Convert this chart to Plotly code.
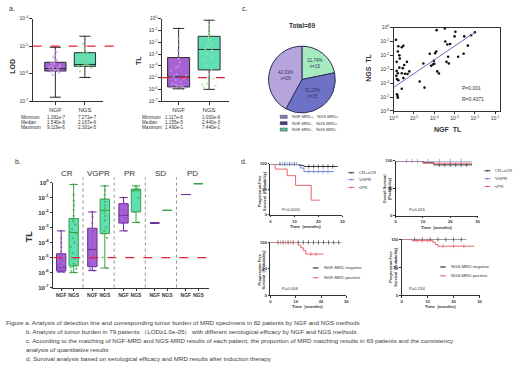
import plotly.graph_objects as go

W, H = 520, 373
FONT = "Liberation Sans, Arial, Helvetica, sans-serif"
INK = "#333333"

# ---------------- data: panel a ----------------
methods = ["NGF", "NGS"]
lod_min = [1.391e-7, 7.271e-7]
lod_q1 = [1.25e-6, 1.85e-6]
lod_median = [1.540e-6, 2.167e-6]
lod_q3 = [2.6e-6, 5.8e-6]
lod_max = [9.119e-6, 2.301e-5]
lod_ngf_pts = [1.4e-7, 9e-7, 1.1e-6, 1.2e-6, 1.25e-6, 1.3e-6, 1.35e-6, 1.4e-6, 1.45e-6, 1.5e-6,
               1.55e-6, 1.6e-6, 1.7e-6, 1.8e-6, 1.9e-6, 2e-6, 2.2e-6, 2.4e-6, 2.6e-6, 2.8e-6,
               3e-6, 3.3e-6, 3.6e-6, 4e-6, 4.5e-6, 5e-6, 6e-6, 7e-6, 9.1e-6]
lod_ngs_pts = [7.3e-7, 1.2e-6, 1.6e-6, 1.8e-6, 1.9e-6, 2e-6, 2.1e-6, 2.2e-6, 2.5e-6, 3e-6,
               3.5e-6, 4e-6, 4.5e-6, 5e-6, 5.5e-6, 6e-6, 8e-6, 1.2e-5, 2.3e-5]
tl_min = [1.117e-6, 1.000e-6]
tl_q1 = [1.6e-6, 4.5e-5]
tl_median = [1.155e-5, 2.440e-3]
tl_q3 = [5.0e-4, 3.2e-2]
tl_max = [1.490e-1, 7.440e-1]
tl_ngf_pts = [1.1e-6, 1.2e-6, 1.3e-6, 1.4e-6, 1.5e-6, 1.6e-6, 1.8e-6, 2e-6, 2.5e-6, 3e-6, 4e-6,
              6e-6, 8e-6, 1e-5, 1.2e-5, 1.5e-5, 2e-5, 4e-5, 7e-5, 1e-4, 2e-4, 4e-4, 8e-4,
              2e-3, 6e-3, 2e-2, 1.5e-1]
tl_ngs_pts = [1e-6, 1.5e-6, 2e-6, 2.5e-6, 3e-6, 8e-6, 2e-5, 5e-5, 1e-4, 3e-4, 6e-4, 1e-3,
              2e-3, 2.4e-3, 4e-3, 8e-3, 1.5e-2, 2.5e-2, 3.5e-2, 6e-2, 1.5e-1, 3e-1, 7.4e-1]
lod_cutoff = 1e-5

# ---------------- data: panel b ----------------
responses = ["CR", "VGPR", "PR", "SD", "PD"]
b_ngf_min = [1.1e-6, 1.35e-6, 6e-4, 2e-3, 1.6e-1]
b_ngf_q1 = [1.3e-6, 2.5e-6, 2e-3, 2e-3, 1.6e-1]
b_ngf_med = [2.2e-6, 3.5e-5, 6.5e-3, 2e-3, 1.6e-1]
b_ngf_q3 = [1.8e-5, 9e-4, 3.9e-2, 2e-3, 1.6e-1]
b_ngf_max = [6e-4, 1.1e-2, 1e-1, 2e-3, 1.6e-1]
b_ngs_min = [1e-6, 2e-6, 2.2e-3, 1.4e-2, 8.5e-1]
b_ngs_q1 = [2.8e-6, 4e-4, 1.1e-2, 1.4e-2, 8.5e-1]
b_ngs_med = [4.7e-4, 1.4e-2, 2.9e-1, 1.4e-2, 8.5e-1]
b_ngs_q3 = [4e-3, 8e-2, 3.7e-1, 1.4e-2, 8.5e-1]
b_ngs_max = [7.5e-1, 6e-1, 6e-1, 1.4e-2, 8.5e-1]
cr_ngf_pts = [1.1e-6, 1.15e-6, 1.2e-6, 1.25e-6, 1.3e-6, 1.4e-6, 1.5e-6, 1.6e-6, 1.8e-6, 2e-6,
              2.2e-6, 2.5e-6, 3e-6, 3.5e-6, 4.5e-6, 6e-6, 8e-6, 1.2e-5, 1.6e-5, 2.5e-5, 5e-5,
              1e-4, 2e-4, 6e-4]
cr_ngs_pts = [1e-6, 1.3e-6, 1.8e-6, 2.2e-6, 2.6e-6, 3e-6, 4e-6, 8e-6, 2e-5, 5e-5, 1e-4, 2e-4,
              4e-4, 5e-4, 8e-4, 1.5e-3, 2.5e-3, 3.5e-3, 6e-3, 1.5e-2, 3e-2, 6e-2, 1.5e-1, 7.5e-1]
vgpr_ngf_pts = [1.35e-6, 1.8e-6, 2.5e-6, 4e-6, 8e-6, 1.5e-5, 2.5e-5, 3.5e-5, 5e-5, 8e-5, 1.5e-4,
                3e-4, 6e-4, 9e-4, 2e-3, 5e-3, 1.1e-2]
vgpr_ngs_pts = [2e-6, 1e-5, 2e-4, 4e-4, 6e-4, 1e-3, 3e-3, 6e-3, 1e-2, 1.4e-2, 2e-2, 3e-2, 5e-2,
                8e-2, 1.5e-1, 3e-1, 6e-1]
pr_ngf_pts = [6e-4, 2e-3, 4e-3, 6.5e-3, 1.5e-2, 3.9e-2, 1e-1]
pr_ngs_pts = [2.2e-3, 1.1e-2, 1e-1, 2.9e-1, 3.5e-1, 4e-1, 6e-1]

# ---------------- data: panel c ----------------
pie_labels = ["NGF-MRD-、NGS-MRD-", "NGF-MRD-、NGS-MRD+", "NGF-MRD+、NGS-MRD+"]
pie_n = [15, 25, 29]
pie_pct = ["21.74%", "36.23%", "42.03%"]
legend_labels = ["NGF-MRD+、NGS-MRD+", "NGF-MRD-、NGS-MRD+", "NGF-MRD-、NGS-MRD-"]
ngf_tl = [1.7e-6, 2.5e-6, 3.0e-6, 1.6e-6, 1.9e-6, 1.4e-6, 1.9e-6, 1.4e-6, 1.6e-6, 1.35e-6,
          1.45e-6, 1.7e-6, 2.5e-6, 2.8e-6, 3.3e-6, 3.6e-6, 4.5e-6, 4.8e-6, 3.0e-6, 2.5e-6,
          1.45e-6, 1.55e-6, 1.6e-6, 5.9e-6, 2.0e-6, 1.3e-6,
          1.9e-5, 3.3e-5, 2.9e-5, 6.0e-5, 7.0e-5, 8.5e-5, 1.0e-4, 9.5e-5, 1.1e-4, 1.25e-4,
          1.3e-4, 1.4e-4, 1.7e-4, 3.3e-4, 3.5e-4, 4.4e-4, 4.0e-4, 5.2e-4, 6.0e-4, 4.8e-4,
          1.1e-3, 1.0e-3, 1.5e-3, 2.8e-3, 3.0e-3, 4.5e-3, 6.5e-3, 1.0e-2]
ngs_tl = [4.5e-2, 3.8e-2, 4.9e-2, 1.9e-2, 1.0e-2, 3.4e-3, 1.3e-3, 7.6e-4, 5.2e-4, 3.4e-4,
          2.0e-4, 1.6e-4, 5.2e-4, 1.2e-3, 2.0e-3, 4.7e-4, 3.4e-3, 4.5e-4, 2.3e-4, 4.0e-5,
          1.6e-5, 1.2e-5, 9.0e-6, 7.0e-4, 6.0e-3, 1.3e-1,
          1.3e-4, 4.8e-5, 2.6e-3, 1.3e-2, 1.8e-3, 2.2e-3, 2.5e-3, 4.0e-3, 1.4e-2, 1.9e-2,
          6.5e-1, 7.0e-4, 5.0e-4, 8.5e-1, 1.0e-1, 6.0e-2, 3.4e-3, 2.6e-3, 6.5e-2, 8.0e-3,
          5.0e-1, 2.3e-1, 8.0e-3, 1.3e-2, 2.3e-1, 5.0e-2, 2.8e-1, 4.5e-1]
fit_x = [1e-6, 1e-2]
fit_y = [5e-5, 4.5e-1]

# ---------------- data: panel d (Kaplan-Meier) ----------------
km1_t = {"CR+sCR": [0, 12, 14, 28], "VGPR": [0, 12.5, 14, 26.5], "≤PR": [0, 2, 7, 10.5, 17, 20.5]}
km1_s = {"CR+sCR": [100, 97, 95, 95], "VGPR": [100, 92, 85, 85], "≤PR": [100, 90, 77, 58, 29, 29]}
km1_c = {"CR+sCR": [4, 6, 8, 10, 16, 18, 20, 22, 24, 26], "VGPR": [5, 7, 9, 11, 16, 18, 20, 22, 24], "≤PR": []}
km2_t = {"CR+sCR": [0, 10, 14, 28], "VGPR": [0, 28], "≤PR": [0, 10, 28]}
km2_s = {"CR+sCR": [100, 97, 93, 93], "VGPR": [100, 100], "≤PR": [100, 96, 96]}
km2_c = {"CR+sCR": [16, 18, 20, 22, 24, 26], "VGPR": [4, 6, 8, 12, 16, 20, 24], "≤PR": []}
km3_t = {"NGF-MRD negative": [0, 28], "NGF-MRD positive": [0, 11, 12, 13, 14, 21]}
km3_s = {"NGF-MRD negative": [100, 100], "NGF-MRD positive": [100, 95, 90, 85, 78, 78]}
km3_c = {"NGF-MRD negative": [3, 5, 7, 9, 11, 13, 15, 17, 19, 21, 23, 25, 27], "NGF-MRD positive": [4, 6, 8, 16, 18]}
km4_t = {"NGS-MRD negative": [0, 25], "NGS-MRD positive": [0, 4, 12, 13, 14, 28]}
km4_s = {"NGS-MRD negative": [100, 100], "NGS-MRD positive": [100, 98, 95, 91, 88, 88]}
km4_c = {"NGS-MRD negative": [5, 8, 11, 14, 17, 20, 23], "NGS-MRD positive": [6, 8, 10, 16, 20, 24]}
km_p = ["P<0.0001", "P=0.026", "P=0.008", "P=0.234"]

caption = [
    "Figure a. Analysis of detection line and corresponding tumor burden of MRD specimens in 82 patients by NGF and NGS methods",
    "b. Analysis of tumor burden in 79 patients （LOD≥1.0e-05） with different serological efficacy by NGF and NGS methods",
    "c. According to the matching of NGF-MRD and NGS-MRD results of each patient, the proportion of MRD matching results in 69 patients and the consistency",
    "analysis of quantitative results",
    "d. Survival analysis based on serological efficacy and MRD results after induction therapy",
]

# ---------------- helpers ----------------
def xd(a, b):
    return [a / W, b / W]


def yd(top, bottom):
    return [1 - bottom / H, 1 - top / H]


def px(x):
    return x / W


def py(y):
    return 1 - y / H


def logticks(lo, hi):
    vals = [10.0 ** e for e in range(lo, hi + 1)]
    text = ["10<sup>%d</sup>" % e for e in range(lo, hi + 1)]
    return vals, text


def sci(v):
    m, e = ("%.3e" % v).split("e")
    return "%se%d" % (m, int(e))


def axis(dom, anchor, size=5, bold=False, **kw):
    d = dict(domain=dom, anchor=anchor, showline=True, linecolor=INK, linewidth=1,
             ticks="outside", ticklen=2.5, tickwidth=0.8, tickcolor=INK, showgrid=False,
             zeroline=False, fixedrange=True,
             tickfont=dict(size=size, color=INK, family=FONT, weight="bold" if bold else "normal"))
    d.update(kw)
    return d


annotations = []
shapes = []


def ann(x, y, text, size=5, bold=False, xanchor="left", angle=0, color=INK, yanchor="middle"):
    annotations.append(dict(x=px(x), y=py(y), xref="paper", yref="paper", text=text, showarrow=False,
                            xanchor=xanchor, yanchor=yanchor, textangle=angle,
                            font=dict(size=size, color=color, family=FONT,
                                      weight="bold" if bold else "normal")))


fig = go.Figure()
layout = {}

PURPLE_FILL = "#a661d3"
GREEN_FILL = "#5fe0b4"
RED = "#e8203c"

# ---------------- panel a ----------------
def box_panel(xa, ya, mins, q1s, meds, q3s, maxs, pts_lists, fills, lines, ptcols, width, capsize, positions):
    for i, pos in enumerate(positions):
        fig.add_trace(go.Box(x=[pos], q1=[q1s[i]], median=[meds[i]], q3=[q3s[i]],
                             lowerfence=[mins[i]], upperfence=[maxs[i]], orientation="v",
                             width=width, fillcolor=fills[i], line=dict(color=lines[i], width=1),
                             whiskerwidth=0, boxpoints=False, xaxis=xa, yaxis=ya, hoverinfo="skip"))
        fig.add_trace(go.Scatter(x=[pos, pos], y=[mins[i], maxs[i]], mode="markers",
                                 marker=dict(symbol="line-ew", size=capsize,
                                             line=dict(color=lines[i], width=1)),
                                 xaxis=xa, yaxis=ya, cliponaxis=False, hoverinfo="skip"))
        if pts_lists[i]:
            fig.add_trace(go.Box(y=pts_lists[i], x0=pos, orientation="v", width=width * 0.85,
                                 boxpoints="all", jitter=0.9, pointpos=0,
                                 fillcolor="rgba(0,0,0,0)", line=dict(color="rgba(0,0,0,0)", width=0),
                                 marker=dict(size=2.3, color=ptcols[i], opacity=0.75),
                                 xaxis=xa, yaxis=ya, hoverinfo="skip"))


box_panel("x", "y", lod_min, lod_q1, lod_median, lod_q3, lod_max, [lod_ngf_pts, lod_ngs_pts],
          [PURPLE_FILL, GREEN_FILL], ["#2a2a2a", "#2a2a2a"], ["#c99cec", "#8fd97a"], 0.72, 8, [0, 1])
box_panel("x2", "y2", tl_min, tl_q1, tl_median, tl_q3, tl_max, [tl_ngf_pts, tl_ngs_pts],
          [PURPLE_FILL, GREEN_FILL], ["#2a2a2a", "#2a2a2a"], ["#c99cec", "#a8e39a"], 0.72, 8, [0, 1])

tv, tt = logticks(-7, -4)
layout["xaxis"] = axis(xd(29, 100), "y", size=6, range=[-0.77, 1.6], tickvals=[0, 1], ticktext=methods)
layout["yaxis"] = axis(yd(15, 99), "x", size=5, type="log", range=[-7, -4], tickvals=tv, ticktext=tt)
tv, tt = logticks(-7, 0)
layout["xaxis2"] = axis(xd(160, 228), "y2", size=6, range=[-0.55, 1.65], tickvals=[0, 1], ticktext=methods)
layout["yaxis2"] = axis(yd(15, 99), "x2", size=5, type="log", range=[-7, 0], tickvals=tv, ticktext=tt)

shapes.append(dict(type="line", xref="x domain", yref="y", x0=0, x1=1.18, y0=lod_cutoff, y1=lod_cutoff,
                   line=dict(color=RED, width=1.2, dash="dash")))
shapes.append(dict(type="line", xref="x2 domain", yref="y2", x0=0, x1=1.06, y0=lod_cutoff, y1=lod_cutoff,
                   line=dict(color=RED, width=1.2, dash="dash")))

ann(3, 5, "a.", size=7)
ann(9, 63, "LOD", size=7, bold=True, xanchor="center", angle=-90)
ann(137, 58, "TL", size=7, bold=True, xanchor="center", angle=-90)
row_names = ["Minimum", "Median", "Maximum"]
lod_rows = [lod_min, lod_median, lod_max]
tl_rows = [tl_min, tl_median, tl_max]
for r, name in enumerate(row_names):
    yy = 116 + r * 5
    ann(15, yy, name, size=4.6)
    ann(42, yy, sci(lod_rows[r][0]), size=4.6)
    ann(73, yy, sci(lod_rows[r][1]), size=4.6)
    ann(138, yy, name, size=4.6)
    ann(161, yy, sci(tl_rows[r][0]), size=4.6)
    ann(199, yy, sci(tl_rows[r][1]), size=4.6)

# ---------------- panel b ----------------
GROUP_STRIDE = 2.5
b_pos_ngf = [g * GROUP_STRIDE for g in range(len(responses))]
b_pos_ngs = [g * GROUP_STRIDE + 1 for g in range(len(responses))]
ngf_pts_b = [cr_ngf_pts, vgpr_ngf_pts, pr_ngf_pts, [], []]
ngs_pts_b = [cr_ngs_pts, vgpr_ngs_pts, pr_ngs_pts, [], []]
n = len(responses)
box_panel("x4", "y4", b_ngf_min, b_ngf_q1, b_ngf_med, b_ngf_q3, b_ngf_max, ngf_pts_b,
          [PURPLE_FILL] * n, ["#6b2e95"] * n, ["#9a52c8"] * n, 0.75, 6, b_pos_ngf)
box_panel("x4", "y4", b_ngs_min, b_ngs_q1, b_ngs_med, b_ngs_q3, b_ngs_max, ngs_pts_b,
          [GREEN_FILL] * n, ["#3c9e45"] * n, ["#3fae4c"] * n, 0.75, 6, b_pos_ngs)

tv, tt = logticks(-7, 0)
layout["xaxis4"] = axis(xd(50, 208), "y4", size=5, bold=True, range=[-0.63, 11.87],
                        tickvals=b_pos_ngf + b_pos_ngs, ticktext=["NGF"] * n + ["NGS"] * n)
layout["yaxis4"] = axis(yd(182, 289), "x4", size=6, bold=True, type="log", range=[-7, 0],
                        tickvals=tv, ticktext=tt)
shapes.append(dict(type="line", xref="x4 domain", yref="y4", x0=0, x1=1, y0=lod_cutoff, y1=lod_cutoff,
                   line=dict(color=RED, width=1.2, dash="dash")))
for g in range(1, n):
    xdiv = g * GROUP_STRIDE - 0.75
    shapes.append(dict(type="line", xref="x4", yref="y4 domain", x0=xdiv, x1=xdiv, y0=0, y1=1.05,
                       line=dict(color="#777777", width=0.8, dash="dot")))
for g, name in enumerate(responses):
    annotations.append(dict(x=g * GROUP_STRIDE + 0.5, y=1.09, xref="x4", yref="y4 domain", text=name,
                            showarrow=False, xanchor="center", yanchor="middle",
                            font=dict(size=8, color=INK, family=FONT)))
ann(9, 161, "b.", size=7)
ann(25, 237, "TL", size=9, bold=True, xanchor="center", angle=-90)

# ---------------- panel c: pie ----------------
PIE_COLS = ["#a6ebbf", "#6d72c6", "#b8a4dc"]
fig.add_trace(go.Pie(labels=pie_labels, values=pie_n, sort=False, direction="clockwise", rotation=0,
                     marker=dict(colors=PIE_COLS, line=dict(color="#2b2d55", width=1)),
                     text=["%s<br>n=%d" % (p, v) for p, v in zip(pie_pct, pie_n)],
                     textinfo="text", textposition="inside", insidetextorientation="horizontal",
                     textfont=dict(size=4.5, color="#333366", family=FONT),
                     domain=dict(x=xd(268, 336), y=yd(43, 111)), hoverinfo="skip", showlegend=False))
ann(239, 5, "c.", size=7)
ann(302, 22, "Total=69", size=6.5, bold=True, xanchor="center")
LEG_COLS = ["#8f86b8", "#3d3f7a", "#58c9a0"]
for i, lab in enumerate(legend_labels):
    yy = 115 + i * 6.5
    shapes.append(dict(type="rect", xref="paper", yref="paper", x0=px(280), x1=px(287),
                       y0=py(yy + 1.5), y1=py(yy - 1.5), fillcolor=LEG_COLS[i],
                       line=dict(color="#222244", width=0.5)))
    ann(290, yy, lab, size=4)

# ---------------- panel c: scatter ----------------
fig.add_trace(go.Scatter(x=ngf_tl, y=ngs_tl, mode="markers", xaxis="x3", yaxis="y3",
                         marker=dict(size=2.6, color="#111111"), hoverinfo="skip"))
fig.add_trace(go.Scatter(x=fit_x, y=fit_y, mode="lines", xaxis="x3", yaxis="y3",
                         line=dict(color="#6c6fb8", width=1), hoverinfo="skip"))
tvx, ttx = logticks(-6, -1)
tvy, tty = logticks(-6, 0)
layout["xaxis3"] = axis(xd(395, 503), "y3", size=5, type="log", range=[-6, -0.75], tickvals=tvx,
                        ticktext=ttx, mirror=True)
layout["yaxis3"] = axis(yd(24, 109), "x3", size=5, type="log", range=[-6, 0], tickvals=tvy,
                        ticktext=tty, mirror=True)
ann(370, 65, "NGS  TL", size=7, bold=True, xanchor="center", angle=-90)
ann(450, 128, "NGF  TL", size=7, bold=True, xanchor="center")
ann(462, 86, "P=0.001", size=5)
ann(462, 97, "R=0.4371", size=5)

# ---------------- panel d: KM ----------------
KM_COL = {"CR+sCR": "#333333", "VGPR": "#6f86d8", "≤PR": "#e9646f",
          "NGF-MRD negative": "#333333", "NGF-MRD positive": "#e9646f",
          "NGS-MRD negative": "#333333", "NGS-MRD positive": "#e9646f"}


def step_value(ts, ss, t):
    v = ss[0]
    for ti, si in zip(ts, ss):
        if ti <= t:
            v = si
    return v


def km_panel(k, tdict, sdict, cdict):
    xa, ya = "x%d" % k, "y%d" % k
    for name in tdict:
        fig.add_trace(go.Scatter(x=tdict[name], y=sdict[name], mode="lines", line_shape="hv",
                                 line=dict(color=KM_COL[name], width=1), xaxis=xa, yaxis=ya,
                                 cliponaxis=False, hoverinfo="skip"))
        cs = cdict[name]
        if cs:
            fig.add_trace(go.Scatter(x=cs, y=[step_value(tdict[name], sdict[name], c) for c in cs],
                                     mode="markers", marker=dict(symbol="line-ns", size=3,
                                                                 line=dict(color=KM_COL[name], width=0.7)),
                                     xaxis=xa, yaxis=ya, cliponaxis=False, hoverinfo="skip"))


km_doms = {5: (xd(270, 343), yd(163, 215)), 6: (xd(397, 480), yd(160, 216)),
           7: (xd(270, 347), yd(243, 297)), 8: (xd(403, 482), yd(240, 297))}
for k, (tdc, sdc, cdc) in zip([5, 6, 7, 8], [(km1_t, km1_s, km1_c), (km2_t, km2_s, km2_c),
                                              (km3_t, km3_s, km3_c), (km4_t, km4_s, km4_c)]):
    km_panel(k, tdc, sdc, cdc)
    xdom, ydom = km_doms[k]
    layout["xaxis%d" % k] = axis(xdom, "y%d" % k, size=4.2, bold=True, range=[0, 30],
                                 tickvals=[0, 10, 20, 30], ticklen=1.5)
    layout["yaxis%d" % k] = axis(ydom, "x%d" % k, size=4.2, bold=True, range=[0, 100],
                                 tickvals=[0, 50, 100], ticklen=1.5)

ann(238, 161, "d.", size=7)
# axis titles
ann(262, 190, "Progression-Free<br>Survival  (Probability)", size=3.8, bold=True, xanchor="center", angle=-90)
ann(389, 188, "Overall Survival<br>(Probability)", size=3.8, bold=True, xanchor="center", angle=-90)
ann(262, 270, "Progression-Free<br>Survival  (Probability)", size=3.8, bold=True, xanchor="center", angle=-90)
ann(395, 268, "Progression-Free<br>Survival  (Probability)", size=3.8, bold=True, xanchor="center", angle=-90)
ann(306, 227, "Time  (months)", size=4.3, bold=True, xanchor="center")
ann(438, 228, "Time  (months)", size=4.3, bold=True, xanchor="center")
ann(308, 308, "Time  (months)", size=4.3, bold=True, xanchor="center")
ann(442, 308, "Time  (months)", size=4.3, bold=True, xanchor="center")
# p values
ann(280, 209, km_p[0], size=4.2)
ann(408, 209, km_p[1], size=4.2)
ann(280, 290, km_p[2], size=4.2)
ann(408, 290, km_p[3], size=4.2)


def km_legend(x0, ys, names):
    for yy, name in zip(ys, names):
        shapes.append(dict(type="line", xref="paper", yref="paper", x0=px(x0), x1=px(x0 + 6),
                           y0=py(yy), y1=py(yy), line=dict(color=KM_COL[name], width=1)))
        shapes.append(dict(type="line", xref="paper", yref="paper", x0=px(x0 + 3), x1=px(x0 + 3),
                           y0=py(yy - 1), y1=py(yy + 1), line=dict(color=KM_COL[name], width=0.6)))
        ann(x0 + 9, yy, name, size=4.3)


km_legend(349, [172, 179, 187], list(km1_t.keys()))
km_legend(487, [170, 178, 186], list(km2_t.keys()))
km_legend(313, [269, 279], list(km3_t.keys()))
km_legend(442, [268, 277], list(km4_t.keys()))

# ---------------- caption ----------------
cap_y = [325, 334, 343, 352, 361]
cap_x = [0, 20, 20, 20, 20]
for line, yy, xx in zip(caption, cap_y, cap_x):
    ann(xx, yy, line, size=6.2, color="#3a3a3a")

layout.update(dict(width=W, height=H, margin=dict(l=0, r=0, t=0, b=0), paper_bgcolor="white",
                   plot_bgcolor="white", showlegend=False, boxmode="overlay",
                   annotations=annotations, shapes=shapes, font=dict(family=FONT, color=INK)))
fig.update_layout(**layout)
fig.write_html("out.html", config={"displayModeBar": False},
               post_script="document.body.style.margin='0';document.body.style.overflow='hidden';")
